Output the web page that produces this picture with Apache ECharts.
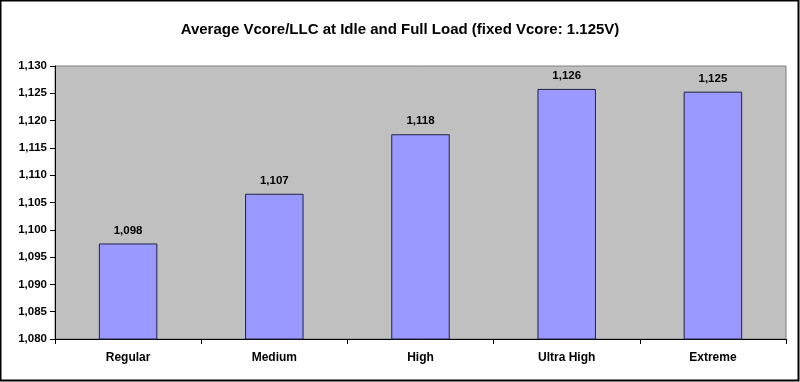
<!DOCTYPE html>
<html><head><meta charset="utf-8">
<script src="https://cdn.jsdelivr.net/npm/echarts@6/dist/echarts.min.js"></script>
<style>html,body{margin:0;padding:0;background:#fff}#c{width:800px;height:382px}</style>
</head><body><div id="c"></div>
<script>
const categories = ['Regular', 'Medium', 'High', 'Ultra High', 'Extreme'];
const values = [1097.5, 1106.6, 1117.5, 1125.8, 1125.3];
const yMin = 1080, yMax = 1130, yStep = 5;
const titleText = 'Average Vcore/LLC at Idle and Full Load (fixed Vcore: 1.125V)';

function fmt(v) { return Math.round(v).toLocaleString('en-US'); }

const chart = echarts.init(document.getElementById('c'), null, {renderer: 'canvas'});
chart.setOption({
  animation: false,
  backgroundColor: '#fff',
  title: {
    text: titleText, left: 'center', top: 17,
    textStyle: {fontFamily: 'Arial, Liberation Sans', fontSize: 15, fontWeight: 'bold', color: '#000'}
  },
  graphic: [{
    type: 'rect', shape: {x: 0.5, y: 0.5, width: 798, height: 380},
    style: {fill: 'none', stroke: '#000', lineWidth: 2}, silent: true, z: 100
  }],
  grid: {left: 55, right: 14, top: 66, bottom: 43, show: true, backgroundColor: '#C0C0C0', borderColor: '#808080', borderWidth: 1},
  xAxis: {
    type: 'category', data: categories,
    axisLine: {lineStyle: {color: '#000', width: 1}},
    axisTick: {show: true, alignWithLabel: false, length: 5, lineStyle: {color: '#000'}},
    axisLabel: {fontFamily: 'Arial, Liberation Sans', fontSize: 12, fontWeight: 'bold', color: '#000', margin: 13}
  },
  yAxis: {
    type: 'value', min: yMin, max: yMax, interval: yStep,
    axisLine: {show: true, lineStyle: {color: '#000', width: 1}},
    axisTick: {show: true, length: 5, lineStyle: {color: '#000'}},
    splitLine: {show: false},
    axisLabel: {formatter: fmt, fontFamily: 'Arial, Liberation Sans', fontSize: 11.5, fontWeight: 'bold', color: '#000', margin: 8}
  },
  series: [{
    type: 'bar', data: values, barWidth: '40%',
    itemStyle: {color: '#9999FF', borderColor: '#222244', borderWidth: 1},
    label: {show: true, position: 'top', distance: 7, formatter: p => fmt(p.value),
      fontFamily: 'Arial, Liberation Sans', fontSize: 11.5, fontWeight: 'bold', color: '#000'}
  }]
});
</script></body></html>
